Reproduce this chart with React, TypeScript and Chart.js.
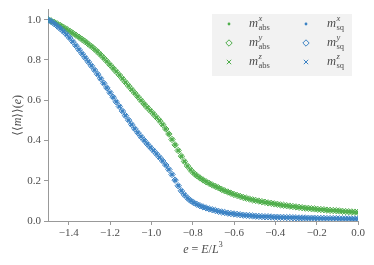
import React, { useEffect, useRef } from 'react';
import { Chart, registerables } from 'chart.js';

Chart.register(...registerables);

// energy density e = E/L^3
const E = [
  -1.5, -1.485, -1.47, -1.455, -1.44, -1.425, -1.41, -1.395, -1.38, -1.365,
  -1.35, -1.335, -1.32, -1.305, -1.29, -1.275, -1.26, -1.245, -1.23, -1.215,
  -1.2, -1.185, -1.17, -1.155, -1.14, -1.125, -1.11, -1.095, -1.08, -1.065,
  -1.05, -1.035, -1.02, -1.005, -0.99, -0.975, -0.96, -0.945, -0.93, -0.915,
  -0.9, -0.885, -0.87, -0.855, -0.84, -0.825, -0.81, -0.795, -0.78, -0.765,
  -0.75, -0.735, -0.72, -0.705, -0.69, -0.675, -0.66, -0.645, -0.63, -0.615,
  -0.6, -0.585, -0.57, -0.555, -0.54, -0.525, -0.51, -0.495, -0.48, -0.465,
  -0.45, -0.435, -0.42, -0.405, -0.39, -0.375, -0.36, -0.345, -0.33, -0.315,
  -0.3, -0.285, -0.27, -0.255, -0.24, -0.225, -0.21, -0.195, -0.18, -0.165,
  -0.15, -0.135, -0.12, -0.105, -0.09, -0.075, -0.06, -0.045, -0.03, -0.015,
  0.0,
];

// <<m>> from |m| estimator (green)
const M_ABS = [
  1.0, 0.994, 0.987, 0.979, 0.971, 0.962, 0.953, 0.943, 0.933, 0.923,
  0.913, 0.902, 0.891, 0.879, 0.867, 0.854, 0.84, 0.825, 0.809, 0.793,
  0.776, 0.759, 0.742, 0.725, 0.707, 0.689, 0.671, 0.653, 0.635, 0.617,
  0.599, 0.581, 0.564, 0.548, 0.532, 0.515, 0.498, 0.479, 0.457, 0.432,
  0.405, 0.378, 0.35, 0.322, 0.296, 0.273, 0.254, 0.238, 0.225, 0.214,
  0.204, 0.195, 0.187, 0.179, 0.172, 0.165, 0.157, 0.15, 0.144, 0.138,
  0.132, 0.127, 0.122, 0.117, 0.113, 0.109, 0.105, 0.102, 0.099, 0.096,
  0.093, 0.09, 0.088, 0.085, 0.083, 0.08, 0.078, 0.076, 0.074, 0.072,
  0.07, 0.068, 0.066, 0.064, 0.063, 0.061, 0.06, 0.058, 0.057, 0.056,
  0.054, 0.053, 0.052, 0.051, 0.05, 0.048, 0.047, 0.046, 0.045, 0.044,
  0.043,
];

// <<m>> from m^2 estimator (blue)
const M_SQ = [
  1.0, 0.991, 0.98, 0.968, 0.955, 0.941, 0.926, 0.909, 0.891, 0.871,
  0.851, 0.831, 0.811, 0.791, 0.771, 0.75, 0.729, 0.707, 0.684, 0.661,
  0.638, 0.615, 0.592, 0.569, 0.546, 0.523, 0.501, 0.479, 0.458, 0.438,
  0.419, 0.401, 0.383, 0.366, 0.35, 0.333, 0.316, 0.298, 0.278, 0.256,
  0.231, 0.203, 0.175, 0.15, 0.13, 0.114, 0.101, 0.091, 0.083, 0.076,
  0.07, 0.065, 0.06, 0.056, 0.052, 0.048, 0.045, 0.042, 0.039, 0.037,
  0.035, 0.033, 0.031, 0.029, 0.028, 0.027, 0.025, 0.024, 0.023, 0.022,
  0.021, 0.021, 0.02, 0.019, 0.019, 0.018, 0.018, 0.017, 0.017, 0.016,
  0.016, 0.015, 0.015, 0.015, 0.014, 0.014, 0.014, 0.013, 0.013, 0.013,
  0.012, 0.012, 0.012, 0.012, 0.011, 0.011, 0.011, 0.011, 0.01, 0.01,
  0.01,
];

const COMPONENTS = ['x', 'y', 'z'];
const ESTIMATORS = ['abs', 'sq'];

const GREEN = '#4fae4b';
const BLUE = '#3b82c4';
const SERIF = '"Liberation Serif", "DejaVu Serif", serif';
const AXIS_GRAY = '#999999';
const TEXT_GRAY = '#4d4d4d';

const STYLES: Record<string, { pointStyle: string; radius: number; fill: boolean }> = {
  x: { pointStyle: 'circle', radius: 1.4, fill: true },
  y: { pointStyle: 'rectRot', radius: 3.2, fill: false },
  z: { pointStyle: 'crossRot', radius: 2.6, fill: false },
};

type Seg = { t: string; it?: boolean; size?: number; dy?: number };

function drawRich(ctx: CanvasRenderingContext2D, segs: Seg[], cx: number, cy: number, baseSize: number) {
  let total = 0;
  const widths: number[] = [];
  segs.forEach((s) => {
    ctx.font = `${s.it ? 'italic ' : ''}${s.size || baseSize}px ${SERIF}`;
    const w = ctx.measureText(s.t).width;
    widths.push(w);
    total += w;
  });
  let x = cx - total / 2;
  segs.forEach((s, i) => {
    ctx.font = `${s.it ? 'italic ' : ''}${s.size || baseSize}px ${SERIF}`;
    ctx.fillText(s.t, x, cy + (s.dy || 0));
    x += widths[i];
  });
}

function drawMarker(ctx: CanvasRenderingContext2D, comp: string, x: number, y: number, color: string) {
  ctx.save();
  ctx.strokeStyle = color;
  ctx.fillStyle = color;
  ctx.lineWidth = 1;
  if (comp === 'x') {
    ctx.beginPath();
    ctx.arc(x, y, 1.4, 0, Math.PI * 2);
    ctx.fill();
  } else if (comp === 'y') {
    const r = 3.2;
    ctx.beginPath();
    ctx.moveTo(x, y - r);
    ctx.lineTo(x + r, y);
    ctx.lineTo(x, y + r);
    ctx.lineTo(x - r, y);
    ctx.closePath();
    ctx.stroke();
  } else {
    const r = 2.2;
    ctx.beginPath();
    ctx.moveTo(x - r, y - r);
    ctx.lineTo(x + r, y + r);
    ctx.moveTo(x + r, y - r);
    ctx.lineTo(x - r, y + r);
    ctx.stroke();
  }
  ctx.restore();
}

const decorPlugin = {
  id: 'decor',
  afterDraw(chart: any) {
    const ctx: CanvasRenderingContext2D = chart.ctx;
    const { left, right, top, bottom } = chart.chartArea;
    ctx.save();
    ctx.fillStyle = TEXT_GRAY;
    ctx.textBaseline = 'middle';
    ctx.textAlign = 'left';
    // x-axis title
    drawRich(
      ctx,
      [
        { t: 'e', it: true },
        { t: ' = ' },
        { t: 'E', it: true },
        { t: '/' },
        { t: 'L', it: true },
        { t: '3', size: 8.5, dy: -5 },
      ],
      (left + right) / 2,
      250,
      12
    );
    // y-axis title
    ctx.save();
    ctx.translate(18, (top + bottom) / 2);
    ctx.rotate(-Math.PI / 2);
    drawRich(
      ctx,
      [
        { t: '⟨⟨' },
        { t: 'm', it: true },
        { t: '⟩⟩(' },
        { t: 'e', it: true },
        { t: ')' },
      ],
      0,
      0,
      12
    );
    ctx.restore();

    // legend
    const lx = 212, ly = 14, lw = 140, lh = 62;
    ctx.fillStyle = '#f2f2f2';
    ctx.fillRect(lx, ly, lw, lh);
    const colMarker = [229, 306];
    const colText = [249, 327];
    const rows = [24, 43, 62];
    ESTIMATORS.forEach((est, c) => {
      const color = est === 'abs' ? GREEN : BLUE;
      COMPONENTS.forEach((comp, r) => {
        drawMarker(ctx, comp, colMarker[c], rows[r], color);
        ctx.fillStyle = TEXT_GRAY;
        let x = colText[c];
        ctx.font = `italic 12.5px ${SERIF}`;
        ctx.fillText('m', x, rows[r]);
        x += ctx.measureText('m').width + 0.5;
        ctx.font = `italic 8.5px ${SERIF}`;
        ctx.fillText(comp, x, rows[r] - 5);
        ctx.font = `8.5px ${SERIF}`;
        ctx.fillText(est, x, rows[r] + 4);
      });
    });
    ctx.restore();
  },
};

function fmt(v: number) {
  return v.toFixed(1).replace('-', '\u2212');
}

export default function App() {
  const ref = useRef<HTMLCanvasElement | null>(null);
  useEffect(() => {
    if (!ref.current) return;
    const datasets: any[] = [];
    ESTIMATORS.forEach((est) => {
      const vals = est === 'abs' ? M_ABS : M_SQ;
      const color = est === 'abs' ? GREEN : BLUE;
      COMPONENTS.forEach((comp) => {
        const st = STYLES[comp];
        datasets.push({
          label: `m_${est}^${comp}`,
          data: E.map((e, i) => ({ x: e, y: vals[i] })),
          pointStyle: st.pointStyle,
          pointRadius: st.radius,
          pointBorderWidth: 1,
          pointBorderColor: color,
          pointBackgroundColor: st.fill ? color : 'rgba(0,0,0,0)',
          showLine: false,
          order: est === 'abs' ? 2 : 1,
        });
      });
    });
    const chart = new Chart(ref.current, {
      type: 'scatter',
      data: { datasets },
      plugins: [decorPlugin],
      options: {
        animation: false,
        responsive: false,
        devicePixelRatio: 1,
        layout: { padding: { left: 0, right: 16, top: 8, bottom: 0 } },
        plugins: { legend: { display: false }, tooltip: { enabled: false } },
        scales: {
          x: {
            type: 'linear',
            min: -1.5,
            max: 0,
            afterFit: (s: any) => {
              s.height = 44;
            },
            ticks: {
              stepSize: 0.2,
              includeBounds: false,
              callback: (v: any) => fmt(Number(v)),
              font: { family: SERIF, size: 11 },
              color: TEXT_GRAY,
              padding: 2,
              maxRotation: 0,
            },
            grid: {
              display: true,
              drawOnChartArea: false,
              drawTicks: true,
              tickLength: 4,
              color: AXIS_GRAY,
            },
            border: { display: true, color: AXIS_GRAY, width: 1 },
          },
          y: {
            type: 'linear',
            min: 0,
            max: 1.05,
            afterFit: (s: any) => {
              s.width = 48;
            },
            ticks: {
              stepSize: 0.2,
              includeBounds: false,
              callback: (v: any) => fmt(Number(v)),
              font: { family: SERIF, size: 11 },
              color: TEXT_GRAY,
              padding: 3,
            },
            grid: {
              display: true,
              drawOnChartArea: false,
              drawTicks: true,
              tickLength: 4,
              color: AXIS_GRAY,
            },
            border: { display: true, color: AXIS_GRAY, width: 1 },
          },
        },
      } as any,
    });
    return () => chart.destroy();
  }, []);
  return (
    <div style={{ position: 'absolute', left: 0, top: 0, width: 374, height: 265, background: '#fff' }}>
      <canvas ref={ref} width={374} height={265} style={{ display: 'block' }} />
    </div>
  );
}
